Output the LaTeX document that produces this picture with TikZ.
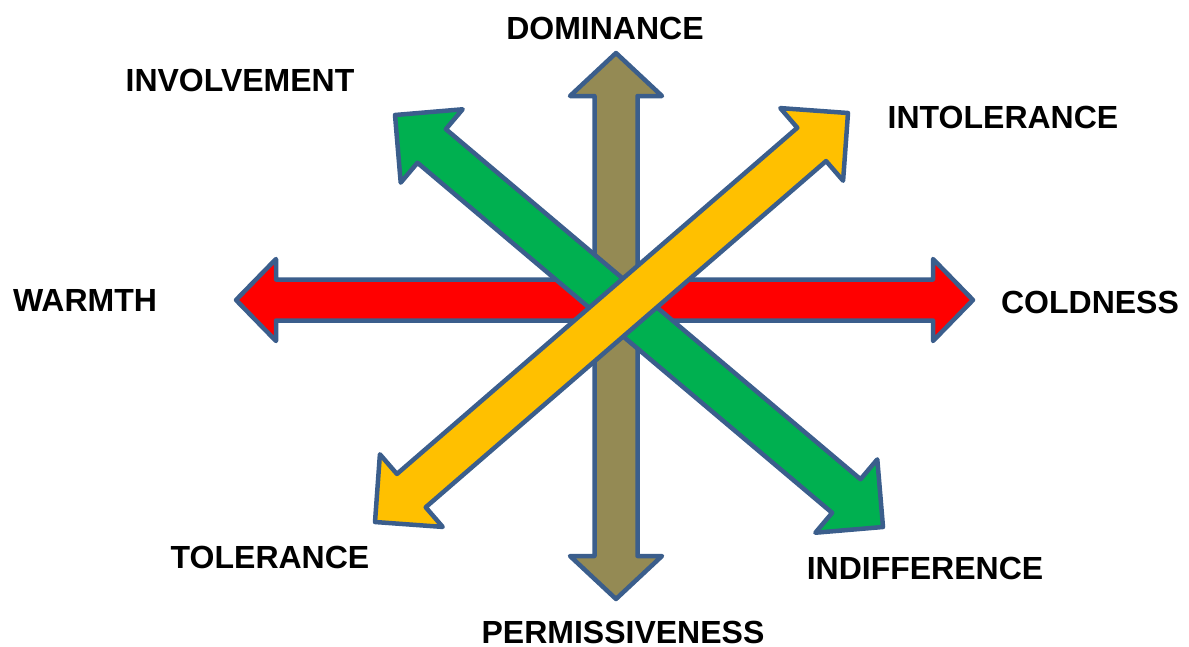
\documentclass[tikz,border=0pt]{standalone}
\usepackage{fontspec}
\setmainfont{Liberation Sans}
\usetikzlibrary{calc}
\definecolor{outl}{HTML}{3B5E8C}
\definecolor{olivefill}{HTML}{948A54}
\definecolor{redfill}{HTML}{FF0000}
\definecolor{greenfill}{HTML}{00B050}
\definecolor{yellowfill}{HTML}{FFC000}
% #1 fill, #2 start, #3 end, #4 head length, #5 head half-width, #6 shaft half-width
\newcommand\dblarrow[6]{%
  \draw[arrowbody, fill=#1]
    (#2)
    -- ($(#2)!#4!(#3)!#5!90:(#3)$)
    -- ($(#2)!#4!(#3)!#6!90:(#3)$)
    -- ($(#3)!#4!(#2)!#6!-90:(#2)$)
    -- ($(#3)!#4!(#2)!#5!-90:(#2)$)
    -- (#3)
    -- ($(#3)!#4!(#2)!#5!90:(#2)$)
    -- ($(#3)!#4!(#2)!#6!90:(#2)$)
    -- ($(#2)!#4!(#3)!#6!-90:(#3)$)
    -- ($(#2)!#4!(#3)!#5!-90:(#3)$)
    -- cycle;}
\begin{document}
\begin{tikzpicture}[x=1pt,y=-1pt,
  arrowbody/.style={draw=outl, line width=4.5pt, line join=round},
  lbl/.style={font=\bfseries\fontsize{32}{32}\selectfont, anchor=base, inner sep=0pt}]
\useasboundingbox (0,0) rectangle (1189,646);
% arrow tips
\coordinate (domTip) at (616,53);
\coordinate (perTip) at (616,599);
\coordinate (warTip) at (236,300);
\coordinate (colTip) at (973,300);
\coordinate (invTip) at (395,115);
\coordinate (indTip) at (883,527);
\coordinate (intTip) at (848,113);
\coordinate (tolTip) at (375,522);
% arrows (bottom to top)
\dblarrow{olivefill}{domTip}{perTip}{43pt}{46pt}{21.5pt}
\dblarrow{redfill}{warTip}{colTip}{40pt}{41pt}{20.5pt}
\dblarrow{greenfill}{invTip}{indTip}{48pt}{48pt}{22pt}
\dblarrow{yellowfill}{tolTip}{intTip}{48pt}{48pt}{22pt}
% labels
\node[lbl] (lblDom) at (605,39) {DOMINANCE};
\node[lbl] (lblPer) at (623,643) {PERMISSIVENESS};
\node[lbl] (lblWar) at (85,311) {WARMTH};
\node[lbl] (lblCol) at (1090,313) {COLDNESS};
\node[lbl] (lblInv) at (240,91) {INVOLVEMENT};
\node[lbl] (lblInd) at (925,579) {INDIFFERENCE};
\node[lbl] (lblInt) at (1003,128) {INTOLERANCE};
\node[lbl] (lblTol) at (270,568) {TOLERANCE};
\end{tikzpicture}
\end{document}
